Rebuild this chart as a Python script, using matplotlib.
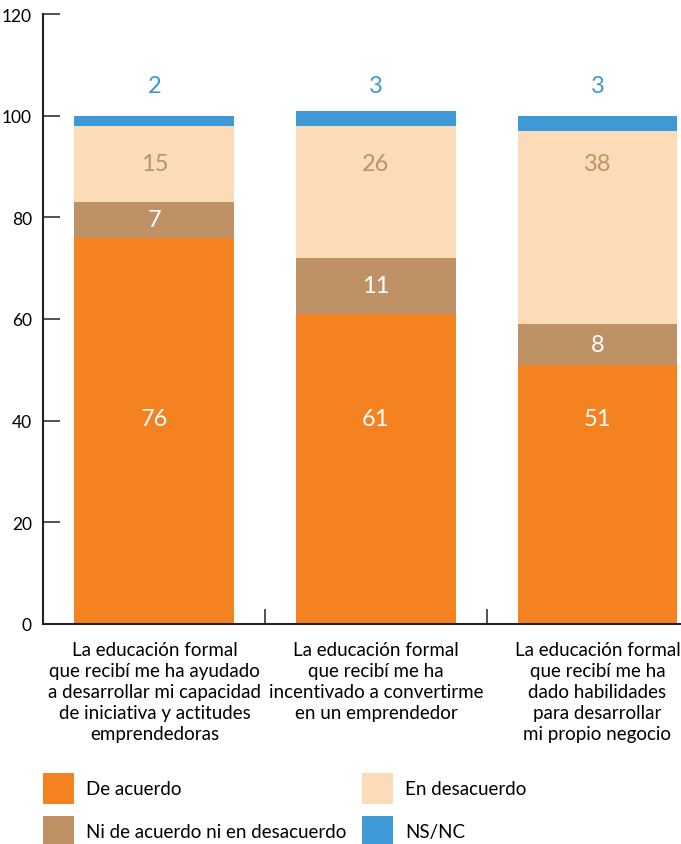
import matplotlib
matplotlib.use('Agg')
import matplotlib.pyplot as plt
from matplotlib.patches import Rectangle
import numpy as np

plt.rcParams['font.family'] = ['Lato', 'DejaVu Sans']

categories = [
    'La educación formal\nque recibí me ha ayudado\na desarrollar mi capacidad\nde iniciativa y actitudes\nemprendedoras',
    'La educación formal\nque recibí me ha\nincentivado a convertirme\nen un emprendedor',
    'La educación formal\nque recibí me ha\ndado habilidades\npara desarrollar\nmi propio negocio',
]
de_acuerdo = [76, 61, 51]
ni_ni = [7, 11, 8]
en_desacuerdo = [15, 26, 38]
ns_nc = [2, 3, 3]

series_names = ['De acuerdo', 'Ni de acuerdo ni en desacuerdo', 'En desacuerdo', 'NS/NC']
colors = ['#F58220', '#BF9266', '#FCDBB9', '#3D9AD6']
label_colors = ['white', 'white', '#BF9266', '#3D9AD6']
# fixed label heights per series (None = middle of the segment)
label_y = [40.5, None, 90.5, 106]

fig = plt.figure(figsize=(6.81, 8.45), dpi=100)
ax = fig.add_axes([43 / 681, 1 - 625 / 845, 1 - 43 / 681, 610 / 845])

x = np.arange(len(categories))
bottom = np.zeros(len(categories))
for i, vals in enumerate([de_acuerdo, ni_ni, en_desacuerdo, ns_nc]):
    vals = np.array(vals)
    ax.bar(x, vals, bottom=bottom, width=0.722, color=colors[i], linewidth=0)
    for xi, v, b in zip(x, vals, bottom):
        y = b + v / 2 if label_y[i] is None else label_y[i]
        ax.text(xi, y, str(v), ha='center', va='center', color=label_colors[i],
                fontsize=17)
    bottom += vals

ax.set_ylim(0, 120)
ax.set_xlim(-0.503, 2.377)
ax.set_yticks([0, 20, 40, 60, 80, 100, 120])
ax.tick_params(axis='y', direction='in', length=12.5, width=1.2, color='#333333',
               labelsize=12.5, pad=8)
ax.set_xticks(x)
ax.set_xticklabels(categories, fontsize=13.5, linespacing=1.3)
ax.tick_params(axis='x', length=0, pad=12)
ax.set_xticks([0.5, 1.5], minor=True)
ax.tick_params(axis='x', which='minor', direction='in', length=11, width=1.2,
               color='#333333')

for s in ['top', 'right']:
    ax.spines[s].set_visible(False)
for s in ['left', 'bottom']:
    ax.spines[s].set_linewidth(1.5)
    ax.spines[s].set_color('#222222')

# legend, two columns
W, H = 681, 845
legend_pos = [(43, 790), (43, 833), (362, 790), (362, 833)]
for (lx, ly), name, c in zip(legend_pos, series_names, colors):
    fig.patches.append(Rectangle((lx / W, 1 - (ly + 15) / H), 31 / W, 31 / H,
                                 transform=fig.transFigure, color=c, lw=0))
    fig.text((lx + 43) / W, 1 - ly / H, name, ha='left', va='center',
             fontsize=13.5)

fig.savefig('out.png', dpi=100)
